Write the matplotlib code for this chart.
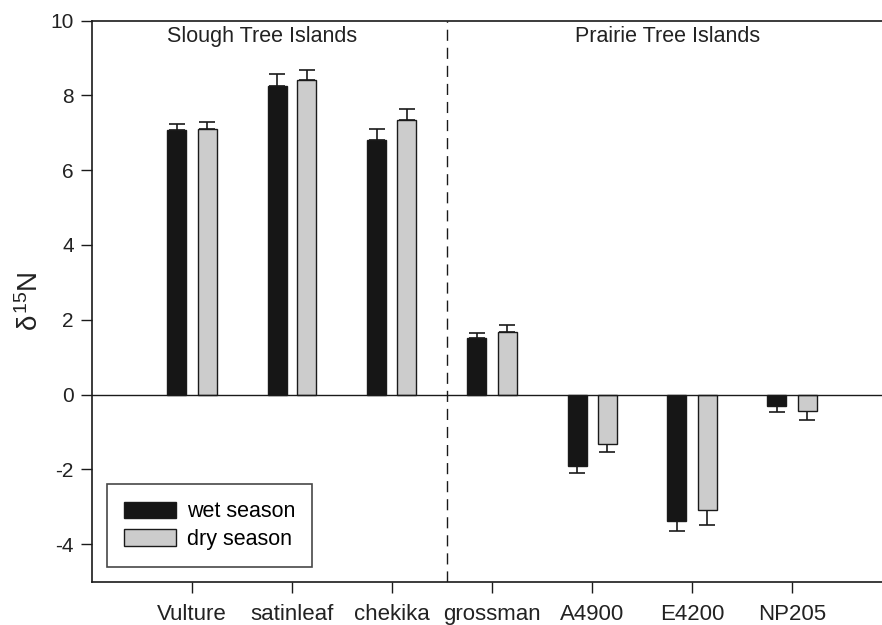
import numpy as np
import matplotlib
matplotlib.use('Agg')
import matplotlib.pyplot as plt
from matplotlib.patches import Patch

plt.rcParams['font.family'] = ['Liberation Sans', 'DejaVu Sans']
plt.rcParams['mathtext.fontset'] = 'custom'
plt.rcParams['mathtext.rm'] = 'Liberation Sans'
plt.rcParams['mathtext.it'] = 'Liberation Sans'
plt.rcParams['axes.unicode_minus'] = False

# tree island sites and mean delta 15N (with SE)
sites = ['Vulture', 'satinleaf', 'chekika', 'grossman', 'A4900', 'E4200', 'NP205']
wet = [7.07, 8.25, 6.81, 1.51, -1.90, -3.37, -0.30]
wet_err = [0.17, 0.32, 0.29, 0.14, 0.19, 0.27, 0.17]
dry = [7.09, 8.40, 7.35, 1.68, -1.33, -3.09, -0.44]
dry_err = [0.21, 0.28, 0.29, 0.19, 0.21, 0.39, 0.23]
groups = ['Slough Tree Islands', 'Prairie Tree Islands']

fig = plt.figure(figsize=(8.82, 6.25), dpi=100, facecolor='white')
ax = fig.add_axes([92/882, 1 - 581.7/625, 790/882, (581.7 - 20.5)/625])

x = np.arange(1, len(sites) + 1)
w = 0.19
off = 0.15
edge = '#1a1a1a'
txt = '#222222'

def one_sided(vals, errs):
    # error bar only pointing away from zero
    lo = [e if v < 0 else 0 for v, e in zip(vals, errs)]
    hi = [e if v >= 0 else 0 for v, e in zip(vals, errs)]
    return [lo, hi]

ax.bar(x - off, wet, width=w, color='#161616', edgecolor=edge, linewidth=1, zorder=3)
ax.bar(x + off, dry, width=w, color='#cccccc', edgecolor=edge, linewidth=1, zorder=3)
ax.errorbar(x - off, wet, yerr=one_sided(wet, wet_err), fmt='none', ecolor=edge,
            elinewidth=1.2, capsize=6, capthick=1.2, zorder=2)
ax.errorbar(x + off, dry, yerr=one_sided(dry, dry_err), fmt='none', ecolor=edge,
            elinewidth=1.2, capsize=6, capthick=1.2, zorder=2)

ax.axhline(0, color=edge, linewidth=1, zorder=4)
ax.axvline(3.55, color=edge, linewidth=1, linestyle=(0, (8, 5)), zorder=1)

ax.text(1.70, 9.56, groups[0], ha='center', va='center', fontsize=15.5, color=txt)
ax.text(5.76, 9.56, groups[1], ha='center', va='center', fontsize=15.5, color=txt)

ax.set_xlim(0, 7.9)
ax.set_ylim(-5, 10)
ax.set_xticks(x)
ax.set_xticklabels(sites, fontsize=16, color=txt)
ax.set_yticks(np.arange(-4, 11, 2))
ax.set_yticklabels([str(v) for v in range(-4, 11, 2)], fontsize=15, color=txt)
ax.tick_params(direction='out', length=8, width=1, color=edge, pad=5)
ax.tick_params(axis='x', pad=8)
ax.spines['right'].set_visible(False)
for s in ['left', 'top', 'bottom']:
    ax.spines[s].set_linewidth(1.2)
    ax.spines[s].set_color(edge)

ax.set_ylabel(r'$\delta^{15}$N', fontsize=20, color=txt, labelpad=5)

handles = [Patch(facecolor='#161616', edgecolor=edge, linewidth=1),
           Patch(facecolor='#cccccc', edgecolor=edge, linewidth=1)]
leg = ax.legend(handles, ['wet season', 'dry season'], loc='lower left',
                bbox_to_anchor=(0.019, 0.026), borderaxespad=0, fontsize=15.5,
                fancybox=False, frameon=True, handlelength=2.4, handleheight=0.8,
                handletextpad=0.5, labelspacing=0.3, borderpad=0.8)
leg.get_frame().set_edgecolor(edge)
leg.get_frame().set_linewidth(1.2)

fig.savefig('out.png', dpi=100, facecolor='white')
